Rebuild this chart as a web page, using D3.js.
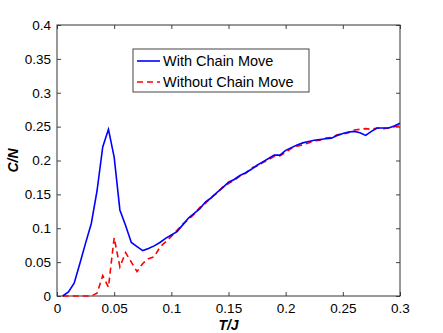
<!DOCTYPE html>
<html>
<head>
<meta charset="utf-8">
<script src="https://cdn.jsdelivr.net/npm/d3@7"></script>
<style>
  body { margin: 0; background: #fff; }
  #chart { width: 443px; height: 333px; }
  text { font-family: "Liberation Sans", Arial, sans-serif; }
</style>
</head>
<body>
<div id="chart"></div>
<script>
// temperature T/J
var temps = [0.005, 0.01, 0.015, 0.02, 0.025, 0.03, 0.035, 0.04, 0.045, 0.05,
  0.055, 0.06, 0.065, 0.07, 0.075, 0.08, 0.085, 0.09, 0.095, 0.1,
  0.105, 0.11, 0.115, 0.12, 0.125, 0.13, 0.135, 0.14, 0.145, 0.15,
  0.155, 0.16, 0.165, 0.17, 0.175, 0.18, 0.185, 0.19, 0.195, 0.2,
  0.205, 0.21, 0.215, 0.22, 0.225, 0.23, 0.235, 0.24, 0.245, 0.25,
  0.255, 0.26, 0.265, 0.27, 0.275, 0.28, 0.285, 0.29, 0.295, 0.3];

// C/N with chain move
var withChain = [0, 0.006, 0.019, 0.048, 0.078, 0.107, 0.155, 0.22, 0.246, 0.205,
  0.127, 0.104, 0.079, 0.073, 0.067, 0.07, 0.074, 0.079, 0.085, 0.09,
  0.095, 0.105, 0.115, 0.122, 0.129, 0.139, 0.145, 0.153, 0.16, 0.168,
  0.172, 0.178, 0.182, 0.187, 0.193, 0.198, 0.203, 0.208, 0.208, 0.215,
  0.219, 0.223, 0.226, 0.228, 0.23, 0.231, 0.232, 0.233, 0.237, 0.24,
  0.242, 0.243, 0.241, 0.237, 0.243, 0.248, 0.248, 0.248, 0.251, 0.255];

// C/N without chain move
var withoutChain = [0, 0, 0, 0, 0, 0, 0.004, 0.03, 0.013, 0.086,
  0.043, 0.064, 0.05, 0.036, 0.048, 0.055, 0.058, 0.072, 0.08, 0.088,
  0.097, 0.106, 0.113, 0.121, 0.131, 0.137, 0.146, 0.152, 0.161, 0.166,
  0.171, 0.177, 0.181, 0.189, 0.192, 0.197, 0.201, 0.206, 0.207, 0.212,
  0.218, 0.221, 0.223, 0.226, 0.229, 0.23, 0.233, 0.234, 0.238, 0.239,
  0.241, 0.245, 0.246, 0.247, 0.246, 0.248, 0.247, 0.248, 0.25, 0.251];

var xTicks = [0, 0.05, 0.1, 0.15, 0.2, 0.25, 0.3];
var yTicks = [0, 0.05, 0.1, 0.15, 0.2, 0.25, 0.3, 0.35, 0.4];

var width = 443, height = 333;
var margin = {top: 25, right: 43, bottom: 37, left: 57};
var iw = width - margin.left - margin.right,
    ih = height - margin.top - margin.bottom;

var svg = d3.select("#chart").append("svg")
  .attr("width", width)
  .attr("height", height);

var g = svg.append("g")
  .attr("transform", "translate(" + margin.left + "," + margin.top + ")");

var x = d3.scaleLinear().domain([0, 0.3]).range([0, iw]);
var y = d3.scaleLinear().domain([0, 0.4]).range([ih, 0]);

/* AXES (matlab style box, ticks inside) */
function styleAxis(sel, hideText) {
  sel.select(".domain").remove();
  sel.selectAll(".tick line").attr("stroke", "#444");
  sel.selectAll(".tick text")
    .style("font-size", "13.5px")
    .attr("fill", "#000");
  if (hideText) sel.selectAll(".tick text").remove();
}

g.append("g")
  .attr("transform", "translate(0," + ih + ")")
  .call(d3.axisBottom(x).tickValues(xTicks).tickFormat(d3.format("")).tickSizeInner(-4).tickPadding(7))
  .call(styleAxis);

g.append("g")
  .call(d3.axisTop(x).tickValues(xTicks).tickSizeInner(-4))
  .call(styleAxis, true);

g.append("g")
  .call(d3.axisLeft(y).tickValues(yTicks).tickFormat(d3.format("")).tickSizeInner(-4).tickPadding(6))
  .call(styleAxis);

g.append("g")
  .attr("transform", "translate(" + iw + ",0)")
  .call(d3.axisRight(y).tickValues(yTicks).tickSizeInner(-4))
  .call(styleAxis, true);

g.selectAll(".tick text").attr("font-family", "Liberation Sans, Arial, sans-serif");

// box
g.append("rect")
  .attr("width", iw)
  .attr("height", ih)
  .attr("fill", "none")
  .attr("stroke", "#333")
  .attr("stroke-width", 1);

/* LINES */
var lineWith = d3.line()
  .x(function(d, i) { return x(temps[i]); })
  .y(function(d) { return y(d); });

g.append("path")
  .datum(withoutChain)
  .attr("d", lineWith)
  .attr("fill", "none")
  .attr("stroke", "#ff0000")
  .attr("stroke-width", 1.6)
  .attr("stroke-dasharray", "6,4");

g.append("path")
  .datum(withChain)
  .attr("d", lineWith)
  .attr("fill", "none")
  .attr("stroke", "#0000ff")
  .attr("stroke-width", 1.6);

/* AXIS TITLES */
svg.append("text")
  .attr("x", margin.left + iw / 2)
  .attr("y", 330)
  .attr("text-anchor", "middle")
  .style("font-size", "14px")
  .style("font-weight", "bold")
  .style("font-style", "italic")
  .text("T/J");

svg.append("text")
  .attr("transform", "translate(18," + (margin.top + ih / 2) + ") rotate(-90)")
  .attr("text-anchor", "middle")
  .style("font-size", "14px")
  .style("font-weight", "bold")
  .style("font-style", "italic")
  .text("C/N");

/* LEGEND */
var legend = svg.append("g").attr("transform", "translate(133,49)");
legend.append("rect")
  .attr("width", 176)
  .attr("height", 43)
  .attr("fill", "#fff")
  .attr("stroke", "#444")
  .attr("stroke-width", 1);

var items = [
  {label: "With Chain Move", color: "#0000ff", dash: null},
  {label: "Without Chain Move", color: "#ff0000", dash: "6,4"}
];

items.forEach(function(it, i) {
  var cy = 12 + i * 21;
  legend.append("line")
    .attr("x1", 4).attr("x2", 27)
    .attr("y1", cy).attr("y2", cy)
    .attr("stroke", it.color)
    .attr("stroke-width", 1.6)
    .attr("stroke-dasharray", it.dash);
  legend.append("text")
    .attr("x", 30)
    .attr("y", cy + 5)
    .style("font-size", "14.5px")
    .text(it.label);
});
</script>
</body>
</html>
